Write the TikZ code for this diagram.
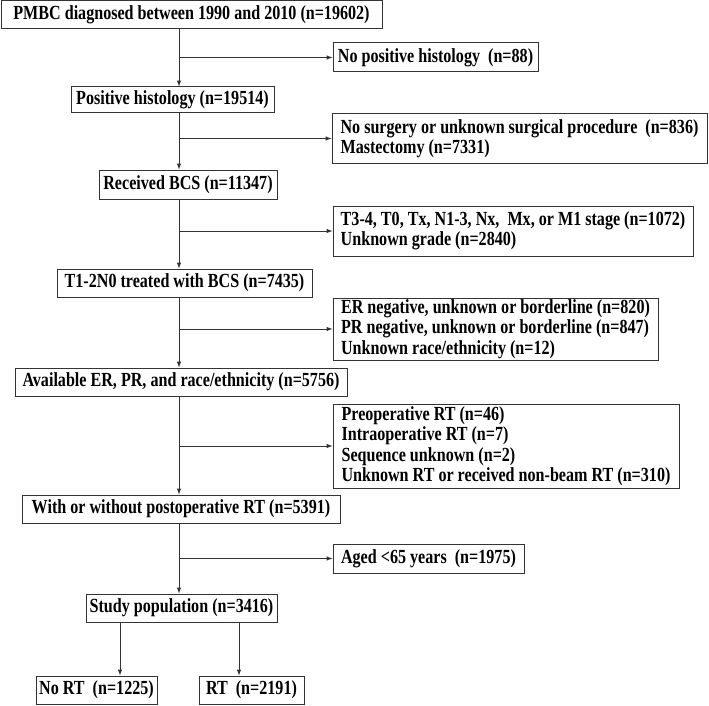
\documentclass[tikz,border=0pt]{standalone}
\usepackage{fontspec}
\setmainfont{Liberation Serif}[FakeStretch=0.805]

\begin{document}
\begin{tikzpicture}[x=1pt, y=-1pt,
    font=\fontsize{20}{20.5}\selectfont\bfseries,
    every node/.style={draw=black!80, line width=1pt, inner xsep=2pt, inner ysep=1pt},
    flowbox/.style={align=center},
    exclbox/.style={align=left},
    >=latex]
            \useasboundingbox (0,0) rectangle (709,706);
            \def \spinex {179}
            \coordinate (spine) at (\spinex,0);
            \coordinate (lft) at (120,0);
            \coordinate (rgt) at (239,0);
            % main column
            \node[flowbox, minimum width=381pt, minimum height=28pt] (pmbc) at (191.5,15) {PMBC diagnosed between 1990 and 2010 (n=19602)};
            \node[flowbox, minimum width=203pt, minimum height=26pt] (poshist) at (172.5,100) {Positive histology (n=19514)};
            \node[flowbox, minimum width=178pt, minimum height=29pt] (bcs) at (188,184.5) {Received BCS (n=11347)};
            \node[flowbox, minimum width=255pt, minimum height=28pt] (tnz) at (184.5,283) {T1-2N0 treated with BCS (n=7435)};
            \node[flowbox, minimum width=332pt, minimum height=28pt] (avail) at (181,382) {Available ER, PR, and race/ethnicity (n=5756)};
            \node[flowbox, minimum width=318pt, minimum height=28pt] (postrt) at (181,509) {With or without postoperative RT (n=5391)};
            \node[flowbox, minimum width=191pt, minimum height=28pt] (study) at (181.5,608) {Study population (n=3416)};
            \node[flowbox, minimum width=121pt, minimum height=28pt] (nort) at (96.5,690) {No RT~ (n=1225)};
            \node[flowbox, minimum width=105pt, minimum height=28pt] (rt) at (251.5,690) {RT~ (n=2191)};
            % exclusions
            \node[exclbox, minimum width=205pt, minimum height=29pt] (nopos) at (435.5,57.5) {No positive histology~ (n=88)};
            \node[exclbox, minimum width=375pt, minimum height=49pt] (nosurg) at (519.5,138.5) {No surgery or unknown surgical procedure~ (n=836)\\Mastectomy (n=7331)};
            \node[exclbox, minimum width=360pt, minimum height=50pt] (stage) at (513,231) {T3-4, T0, Tx, N1-3, Nx,~ Mx, or M1 stage (n=1072)\\Unknown grade (n=2840)};
            \node[exclbox, minimum width=325pt, minimum height=62pt] (erpr) at (495.5,329) {ER negative, unknown or borderline (n=820)\\PR negative, unknown or borderline (n=847)\\Unknown race/ethnicity (n=12)};
            \node[exclbox, minimum width=346pt, minimum height=84pt] (preop) at (506,446) {Preoperative RT (n=46)\\Intraoperative RT (n=7)\\Sequence unknown (n=2)\\Unknown RT or received non-beam RT (n=310)};
            \node[exclbox, minimum width=191pt, minimum height=29pt] (aged) at (428.5,558.5) {Aged <65 years~ (n=1975)};
            % connectors
            \foreach \a/\b in {pmbc/poshist,poshist/bcs,bcs/tnz,tnz/avail,avail/postrt,postrt/study}
            {
              \draw[->, black!80, line width=1pt] (\a.south -| spine) -- (\b.north -| spine);
            }
            \foreach \e in {nopos,nosurg,stage,erpr,preop,aged}
            {
              \draw[->, black!80, line width=1pt] (spine |- \e.west) -- (\e.west);
            }
            \draw[->, black!80, line width=1pt] (study.south -| lft) -- (nort.north -| lft);
            \draw[->, black!80, line width=1pt] (study.south -| rgt) -- (rt.north -| rgt);
        \end{tikzpicture}
\end{document}
